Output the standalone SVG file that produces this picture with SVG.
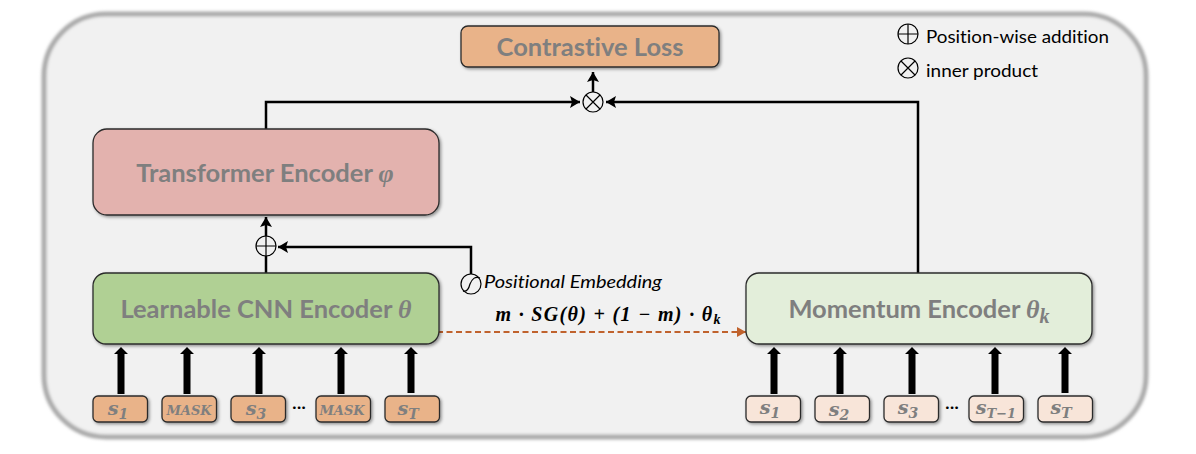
<svg xmlns="http://www.w3.org/2000/svg" width="1196" height="454" viewBox="0 0 1196 454">
<style>
.box{stroke:#2b2b2b;stroke-width:1.3}
.title{font-family:Lato,"Liberation Sans",sans-serif;font-weight:700;fill:#7f7f7f;font-size:25.5px;text-anchor:middle;font-variant-ligatures:none}
.m{font-family:"Liberation Serif","DejaVu Serif",serif;font-weight:700;font-style:italic}
.tok{font-family:"DejaVu Serif","Liberation Serif",serif;font-weight:700;font-style:italic;fill:#7f7f7f;text-anchor:middle}
.lbl{font-family:Lato,"Liberation Sans",sans-serif;fill:#000;font-size:18px;font-variant-ligatures:none}
.wire{fill:none;stroke:#000;stroke-width:2.5}
.thick{fill:none;stroke:#000;stroke-width:7}
.sym{fill:none;stroke:#000;stroke-width:1.2}
.bg{fill:#f1f1f1;stroke:#000;stroke-width:1.2}
.orange{fill:#e9b389}
.light{fill:#f8e5d9}
</style>
<defs>
<filter id="sh" x="-10%" y="-20%" width="120%" height="140%"><feDropShadow dx="1.5" dy="1.5" stdDeviation="1.5" flood-color="#000" flood-opacity="0.4"/></filter>
<filter id="outer" x="-3%" y="-6%" width="106%" height="112%"><feGaussianBlur stdDeviation="1.6"/></filter>
<marker id="ah" markerUnits="userSpaceOnUse" markerWidth="12" markerHeight="14" refX="10" refY="6" orient="auto"><path d="M0 0L10 6L0 12L2 6Z" fill="#000"/></marker>
<marker id="ao" markerUnits="userSpaceOnUse" markerWidth="12" markerHeight="12" refX="9" refY="5" orient="auto"><path d="M0 0L9 5L0 10Z" fill="#c0622d"/></marker>
</defs>
<rect width="1196" height="454" fill="#fff"/>
<g id="frame">
<rect x="44" y="14" width="1102" height="423" rx="62" fill="#f1f1f1" stroke="#aaa" stroke-width="5" filter="url(#outer)"/>
</g>
<g id="connectors">
<path class="wire" d="M266 129V102H580" marker-end="url(#ah)"/>
<path class="wire" d="M918 273V102H606" marker-end="url(#ah)"/>
<path class="wire" d="M593 92V72" marker-end="url(#ah)"/>
<path class="wire" d="M266 273V256"/>
<path class="wire" d="M266 236V217" marker-end="url(#ah)"/>
<path class="wire" d="M471 274V247H278" marker-end="url(#ah)"/>
<path d="M437 332H746" fill="none" stroke="#c0622d" stroke-width="2" stroke-dasharray="6 3.5" marker-end="url(#ao)"/>
<g id="input-arrows">
<path class="thick" d="M121 394V354M187 394V354M259 394V354M341 394V354M411 393V354M774 394V354M840 394V354M912 394V354M995 394V354M1065 393V354"/>
<path fill="#000" d="M114 354L121 347L128 354ZM180 354L187 347L194 354ZM252 354L259 347L266 354ZM334 354L341 347L348 354ZM404 354L411 347L418 354ZM767 354L774 347L781 354ZM833 354L840 347L847 354ZM905 354L912 347L919 354ZM988 354L995 347L1002 354ZM1058 354L1065 347L1072 354Z"/>
</g>
</g>
<g id="contrastive-loss">
<rect class="box orange" x="461" y="26" width="258" height="41" rx="7" filter="url(#sh)"/>
<text class="title" x="590" y="56">Contrastive Loss</text>
</g>
<g id="inner-product-op">
<circle class="bg" cx="593" cy="102" r="10"/>
<path class="sym" d="M586 95L600 109M600 95L586 109"/>
</g>
<g id="transformer-encoder">
<rect class="box" x="93" y="129" width="346" height="86" rx="14" fill="#e3b2ae" filter="url(#sh)"/>
<text class="title" x="265" y="182">Transformer Encoder <tspan class="m" font-size="26" fill="#7f7f7f">φ</tspan></text>
</g>
<g id="add-op">
<circle class="bg" cx="266" cy="246" r="10"/>
<path class="sym" d="M256 246H276M266 236V256"/>
</g>
<g id="positional-embedding">
<circle class="bg" cx="471" cy="284" r="10"/>
<path class="sym" d="M463 291C467 292 469 288 470 284C472 279 475 276 480 278"/>
<text class="lbl" x="484" y="288" font-style="italic" textLength="178" lengthAdjust="spacingAndGlyphs">Positional Embedding</text>
</g>
<g id="cnn-encoder">
<rect class="box" x="93" y="273" width="346" height="71" rx="13" fill="#b0d094" filter="url(#sh)"/>
<text class="title" x="266" y="318">Learnable CNN Encoder <tspan class="m" font-size="26" fill="#7f7f7f">θ</tspan></text>
</g>
<g id="momentum-encoder">
<rect class="box" x="746" y="273" width="346" height="71" rx="13" fill="#e3eeda" filter="url(#sh)"/>
<text class="title" x="919" y="318">Momentum Encoder <tspan class="m" font-size="26" fill="#7f7f7f">θ<tspan font-size="20" dy="5">k</tspan></tspan></text>
</g>
<g id="update-label">
<text class="m" x="608" y="321" font-size="20" text-anchor="middle" fill="#000" textLength="225">m · SG(θ) + (1 − m) · θ<tspan font-size="14" dy="3">k</tspan></text>
</g>
<g id="tok-l1"><rect class="box orange" x="93" y="396" width="54.5" height="26" rx="5" filter="url(#sh)"/><text class="tok" x="118" y="415" font-size="19">s<tspan font-size="14" dy="4">1</tspan></text></g>
<g id="tok-l2"><rect class="box orange" x="162" y="396" width="54.5" height="26" rx="5" filter="url(#sh)"/><text class="tok" x="189" y="415" font-size="13">MASK</text></g>
<g id="tok-l3"><rect class="box orange" x="231" y="396" width="54.5" height="26" rx="5" filter="url(#sh)"/><text class="tok" x="256" y="415" font-size="19">s<tspan font-size="14" dy="4">3</tspan></text></g>
<g id="tok-l4"><rect class="box orange" x="316" y="396" width="54.5" height="26" rx="5" filter="url(#sh)"/><text class="tok" x="342" y="415" font-size="13">MASK</text></g>
<g id="tok-l5"><rect class="box orange" x="385" y="396" width="54.5" height="26" rx="5" filter="url(#sh)"/><text class="tok" x="408" y="415" font-size="19">s<tspan font-size="14" dy="4">T</tspan></text></g>
<g id="tok-r1"><rect class="box light" x="746" y="396" width="54.5" height="26" rx="5" filter="url(#sh)"/><text class="tok" x="770" y="414" font-size="19">s<tspan font-size="14" dy="4">1</tspan></text></g>
<g id="tok-r2"><rect class="box light" x="815" y="396" width="54.5" height="26" rx="5" filter="url(#sh)"/><text class="tok" x="839" y="416" font-size="19">s<tspan font-size="14" dy="4">2</tspan></text></g>
<g id="tok-r3"><rect class="box light" x="884" y="396" width="54.5" height="26" rx="5" filter="url(#sh)"/><text class="tok" x="908" y="414" font-size="19">s<tspan font-size="14" dy="4">3</tspan></text></g>
<g id="tok-r4"><rect class="box light" x="969" y="396" width="54.5" height="26" rx="5" filter="url(#sh)"/><text class="tok" x="996" y="414" font-size="19">s<tspan font-size="13" dy="4">T−1</tspan></text></g>
<g id="tok-r5"><rect class="box light" x="1038" y="396" width="54.5" height="26" rx="5" filter="url(#sh)"/><text class="tok" x="1061" y="414" font-size="19">s<tspan font-size="14" dy="4">T</tspan></text></g>
<g id="dots"><text class="lbl" x="299" y="413" font-size="15" text-anchor="middle">···</text><text class="lbl" x="952" y="413" font-size="15" text-anchor="middle">···</text></g>
<g id="legend">
<circle class="sym" cx="908" cy="34" r="10"/><path class="sym" d="M898 34H918M908 24V44"/>
<text class="lbl" x="926" y="43" textLength="183" lengthAdjust="spacingAndGlyphs">Position-wise addition</text>
<circle class="sym" cx="908" cy="68" r="10"/><path class="sym" d="M901 61L915 75M915 61L901 75"/>
<text class="lbl" x="926" y="77" textLength="112" lengthAdjust="spacingAndGlyphs">inner product</text>
</g>
</svg>
